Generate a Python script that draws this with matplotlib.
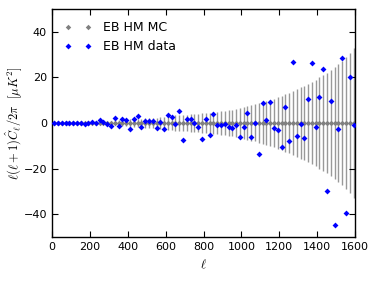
import numpy as np
import matplotlib
matplotlib.use('Agg')
import matplotlib.pyplot as plt

plt.rcParams['mathtext.fontset'] = 'cm'
plt.rcParams['font.family'] = 'DejaVu Sans'

# bin centres in multipole
ell = np.arange(12, 1600, 20)

# EB half-mission data points
eb_data = [0, 0, 0, 0, 0, 0, 0.15, -0.15, -0.3, 0.15,
           0.6, 0, 1.2, 0.6, -0.4, -1.3, 2.3, -1.3, 1.6, 1.5,
           -2.5, 1.75, 2.9, -1.75, 0.9, 0.9, 0.9, -2.2, 0.6, -2.6,
           3.5, 2.5, -0.4, 5.4, -7.3, 1.6, 1.6, -0.2, -1.9, -7.0,
           1.6, -5.1, 3.9, -1.0, -0.7, -0.3, -1.6, -2.0, -0.7, -6.1,
           -1.6, 4.4, -6.1, 0.0, -13.5, 8.8, 1.2, 9.2, -2.2, -2.9,
           -10.5, 6.9, -7.7, 26.8, -5.7, -0.6, -6.6, 10.7, 26.2, -1.8,
           11.4, 23.8, -29.8, 9.8, -44.9, -2.5, 28.4, -39.6, 20.2, -0.8]

# EB half-mission MC mean and scatter
eb_mc = [0, 0, 0, 0, 0, 0, 0, 0, 0, 0,
         0, 0, 0, 0, 0, 0, 0, 0, 0, 0,
         0, 0, 0, 0, 0, 0, 0, 0, 0, 0,
         0, 0, 0, 0, 0, 0, 0, 0, 0, 0,
         0, 0, 0, 0, 0, 0, 0, 0, 0, 0,
         0, 0, 0, 0, 0, 0, 0, 0, 0, 0,
         0, 0, 0, 0, 0, 0, 0, 0, 0, 0,
         0, 0, 0, 0, 0, 0, 0, 0, 0, 0]
eb_mc_err = [0.05, 0.05, 0.05, 0.06, 0.07, 0.08, 0.1, 0.12, 0.15, 0.2,
             0.3, 0.4, 0.5, 0.6, 0.8, 1.0, 1.1, 1.2, 1.4, 1.5,
             1.6, 1.7, 1.8, 1.9, 2.0, 2.1, 2.3, 2.4, 2.6, 2.8,
             3.0, 3.1, 3.3, 3.5, 3.6, 3.7, 3.8, 3.9, 4.0, 4.2,
             4.4, 4.5, 4.7, 4.9, 5.1, 5.3, 5.6, 5.9, 6.2, 6.5,
             6.9, 7.3, 7.7, 8.1, 8.6, 9.1, 9.6, 10.1, 10.7, 11.3,
             11.9, 12.6, 13.3, 14.0, 14.8, 15.6, 16.4, 17.2, 18.1, 19.0,
             20.0, 21.0, 22.0, 23.2, 24.4, 25.7, 27.2, 28.8, 30.8, 33.0]

fig = plt.figure(figsize=(3.79, 2.86), dpi=100)
ax = fig.add_axes([0.137, 0.171, 0.8, 0.798])

ax.plot(ell, eb_mc, 'D', color='gray', ms=2.8, mew=0, label='EB HM MC', zorder=2)
ax.errorbar(ell, eb_mc, yerr=eb_mc_err, fmt='none', ecolor='#999999',
            elinewidth=1, capsize=0, zorder=1)
ax.plot(ell, eb_data, 'D', color='blue', ms=3, mew=0, label='EB HM data', zorder=3)

ax.set_xlim(0, 1600)
ax.set_ylim(-50, 50)
ax.set_xticks(np.arange(0, 1601, 200))
ax.set_yticks([-40, -20, 0, 20, 40])
ax.tick_params(direction='in', top=True, right=True, labelsize=8, length=4, width=0.8)
for s in ax.spines.values():
    s.set_linewidth(1)

ax.set_xlabel(r'$\ell$', fontsize=9)
ax.set_ylabel(r'$\ell(\ell+1)\hat{C}_\ell/2\pi\ \ [\mu K^2]$', fontsize=9, labelpad=-1)

ax.legend(loc='upper left', frameon=False, numpoints=2, fontsize=9,
          handlelength=2.2, handletextpad=0.9, borderaxespad=0.6, labelspacing=0.45)

fig.savefig('out.png', dpi=100)
